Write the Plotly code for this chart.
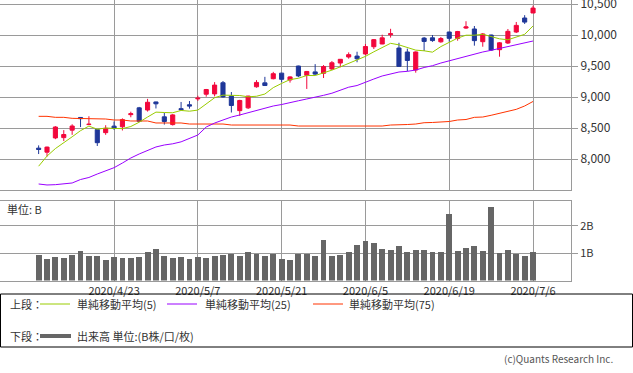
import plotly.graph_objects as go

# ---------------- data ----------------
dates = ["2020/4/9", "2020/4/13", "2020/4/14", "2020/4/15", "2020/4/16", "2020/4/17", "2020/4/20",
         "2020/4/21", "2020/4/22", "2020/4/23", "2020/4/24", "2020/4/27", "2020/4/28", "2020/4/29",
         "2020/4/30", "2020/5/1", "2020/5/4", "2020/5/5", "2020/5/6", "2020/5/7", "2020/5/8",
         "2020/5/11", "2020/5/12", "2020/5/13", "2020/5/14", "2020/5/15", "2020/5/18", "2020/5/19",
         "2020/5/20", "2020/5/21", "2020/5/22", "2020/5/26", "2020/5/27", "2020/5/28", "2020/5/29",
         "2020/6/1", "2020/6/2", "2020/6/3", "2020/6/4", "2020/6/5", "2020/6/8", "2020/6/9",
         "2020/6/10", "2020/6/11", "2020/6/12", "2020/6/15", "2020/6/16", "2020/6/17", "2020/6/18",
         "2020/6/19", "2020/6/22", "2020/6/23", "2020/6/24", "2020/6/25", "2020/6/26", "2020/6/29",
         "2020/6/30", "2020/7/1", "2020/7/2", "2020/7/6"]

opens = [8175, 8110, 8340, 8345, 8465, 8670, 8555, 8475, 8425, 8530,
         8520, 8715, 8825, 8790, 8920, 8680, 8555, 8812, 8875, 8970,
         9045, 9050, 9230, 9015, 8780, 8825, 9165, 9228, 9295, 9385,
         9275, 9500, 9350, 9405, 9382, 9452, 9548, 9645, 9660, 9694,
         9811, 9855, 10005, 9790, 9726, 9436, 9950, 9955, 9890, 10048,
         9945, 10112, 10097, 9892, 10000, 9763, 9871, 10048, 10274, 10355]

highs = [8220, 8200, 8530, 8466, 8560, 8675, 8690, 8480, 8545, 8605,
         8655, 8763, 8840, 8970, 8925, 8745, 8725, 8920, 8935, 9020,
         9130, 9240, 9258, 9080, 8955, 9018, 9272, 9325, 9405, 9390,
         9335, 9505, 9420, 9530, 9515, 9580, 9612, 9720, 9730, 9855,
         9935, 10005, 10100, 9875, 9780, 9735, 9968, 10000, 9968, 10052,
         10066, 10222, 10145, 10032, 10005, 9887, 10097, 10210, 10320, 10473]

lows = [8080, 8040, 8320, 8290, 8390, 8515, 8548, 8210, 8390, 8470,
        8460, 8673, 8600, 8765, 8815, 8555, 8540, 8790, 8812, 8937,
        9005, 9010, 8990, 8750, 8695, 8806, 9150, 9180, 9285, 9240,
        9232, 9320, 9130, 9355, 9306, 9436, 9480, 9618, 9560, 9677,
        9774, 9852, 9958, 9490, 9415, 9392, 9742, 9890, 9876, 9892,
        9908, 10097, 9828, 9811, 9742, 9650, 9855, 10032, 10178, 10355]

closes = [8154, 8192, 8516, 8395, 8532, 8650, 8561, 8263, 8495, 8495,
          8635, 8730, 8608, 8915, 8890, 8605, 8711, 8795, 8854, 8980,
          9121, 9192, 9002, 8863, 8944, 9015, 9235, 9185, 9376, 9285,
          9324, 9340, 9412, 9369, 9490, 9552, 9608, 9683, 9616, 9814,
          9925, 9954, 10020, 9493, 9589, 9726, 9896, 9910, 9943, 9946,
          10056, 10131, 9909, 10017, 9757, 9874, 10059, 10155, 10208, 10434]

ma5 = [7884, 8047, 8168, 8270, 8358, 8457, 8531, 8480, 8500, 8493,
       8490, 8524, 8593, 8677, 8756, 8750, 8746, 8783, 8771, 8789,
       8892, 8988, 9030, 9032, 9024, 9003, 9012, 9048, 9151, 9219,
       9281, 9302, 9347, 9346, 9387, 9433, 9486, 9540, 9590, 9655,
       9729, 9798, 9866, 9841, 9796, 9756, 9745, 9723, 9813, 9884,
       9950, 9997, 9997, 10012, 9974, 9938, 9923, 9972, 10011, 10146]

ma25 = [7597, 7581, 7586, 7597, 7613, 7669, 7702, 7758, 7806, 7860,
        7935, 8016, 8081, 8134, 8194, 8226, 8245, 8277, 8331, 8387,
        8516, 8580, 8629, 8677, 8710, 8745, 8779, 8823, 8855, 8879,
        8903, 8939, 8968, 8994, 9027, 9061, 9113, 9158, 9185, 9242,
        9290, 9339, 9374, 9403, 9414, 9435, 9476, 9505, 9548, 9584,
        9621, 9661, 9702, 9726, 9753, 9782, 9806, 9839, 9871, 9903]

ma75 = [8688, 8688, 8672, 8672, 8656, 8656, 8656, 8645, 8645, 8629,
        8629, 8613, 8613, 8613, 8581, 8581, 8581, 8581, 8564, 8564,
        8564, 8564, 8564, 8548, 8548, 8548, 8548, 8548, 8548, 8548,
        8548, 8532, 8532, 8532, 8532, 8532, 8532, 8532, 8532, 8532,
        8532, 8532, 8548, 8548, 8556, 8564, 8585, 8589, 8597, 8605,
        8629, 8637, 8672, 8677, 8705, 8737, 8758, 8801, 8855, 8928]

volume = [0.93, 0.79, 0.86, 0.82, 0.93, 1.08, 0.90, 0.90, 0.75, 0.86,
          0.82, 0.82, 0.86, 1.04, 1.15, 0.90, 0.82, 0.86, 0.79, 0.86,
          0.82, 0.90, 0.93, 0.97, 0.90, 1.04, 0.97, 0.90, 0.97, 0.79,
          0.75, 0.97, 0.97, 0.90, 1.48, 0.90, 0.93, 1.04, 1.30, 1.45,
          1.37, 1.15, 1.12, 1.26, 1.04, 1.12, 1.12, 1.04, 1.04, 2.44,
          1.08, 1.19, 1.26, 1.08, 2.69, 1.01, 1.12, 0.97, 0.90, 1.04]

tick_dates = ["2020/4/23", "2020/5/7", "2020/5/21", "2020/6/5", "2020/6/19", "2020/7/6"]
price_ticks = [8000, 8500, 9000, 9500, 10000, 10500]
vol_ticks = [1, 2]
vol_tick_text = ["1B", "2B"]

legend_top = ["単純移動平均(5)", "単純移動平均(25)", "単純移動平均(75)"]
legend_bottom = "出来高 単位:(B株/口/枚)"

# ---------------- style ----------------
W, H = 633, 373
R_MARGIN = 62
PLOT_W = W - R_MARGIN
RED = "#f2083c"
BLUE = "#1f3799"
C5, C25, C75 = "#99cc00", "#9900ff", "#ff3300"
GRID = "#9a9a9a"
FONT = "Noto Sans CJK JP"
TXT = "#333333"


def px(x):
    # pixel x from figure's left edge -> paper coordinate (paper spans the plot width)
    return x / PLOT_W


def py(y):
    return 1 - y / H


fig = go.Figure()
fig.add_trace(go.Candlestick(
    x=dates, open=opens, high=highs, low=lows, close=closes,
    increasing=dict(line=dict(color=RED, width=1), fillcolor=RED),
    decreasing=dict(line=dict(color=BLUE, width=1), fillcolor=BLUE),
    whiskerwidth=0, xaxis="x", yaxis="y", showlegend=False, hoverinfo="skip"))
for vals, col in [(ma75, C75), (ma25, C25), (ma5, C5)]:
    fig.add_trace(go.Scatter(x=dates, y=vals, mode="lines", line=dict(color=col, width=1),
                             xaxis="x", yaxis="y", showlegend=False, hoverinfo="skip"))
fig.add_trace(go.Bar(x=dates, y=volume, marker=dict(color="#666666", line=dict(width=0)),
                     width=0.7, xaxis="x2", yaxis="y2", showlegend=False, hoverinfo="skip"))

xr = [-4.61, 63.53]
common_x = dict(type="category", range=xr, showgrid=True, gridcolor=GRID, gridwidth=1,
                tickmode="array", tickvals=tick_dates, showline=True, mirror=True,
                linecolor=GRID, linewidth=1, zeroline=False, fixedrange=True,
                automargin=False)

fig.update_layout(
    width=W, height=H,
    margin=dict(l=0, r=R_MARGIN, t=0, b=0, autoexpand=False),
    paper_bgcolor="white", plot_bgcolor="white",
    font=dict(family=FONT, size=11, color=TXT),
    showlegend=False,
    bargap=0,
    xaxis=dict(common_x, anchor="y", showticklabels=False, ticks="",
               rangeslider=dict(visible=False), domain=[0, 1]),
    yaxis=dict(domain=[py(190), 1.0], range=[7500, 10564.5], side="right",
               tickmode="array", tickvals=price_ticks, tickformat=",",
               ticks="outside", ticklen=6, tickcolor=GRID, ticklabeloverflow="allow",
               showgrid=True, gridcolor=GRID, showline=True, mirror=True,
               linecolor=GRID, zeroline=False, fixedrange=True, automargin=False,
               tickfont=dict(size=12, color=TXT)),
    xaxis2=dict(common_x, anchor="y2", showticklabels=True, ticks="",
                tickfont=dict(size=11, color=TXT), domain=[0, 1]),
    yaxis2=dict(domain=[py(280.5), py(201)], range=[0, 2.91], side="right",
                tickmode="array", tickvals=vol_ticks, ticktext=vol_tick_text,
                ticks="outside", ticklen=6, tickcolor=GRID,
                showgrid=True, gridcolor=GRID, showline=True, mirror=True,
                linecolor=GRID, zeroline=False, fixedrange=True, automargin=False,
                tickfont=dict(size=11, color=TXT)),
)

shapes = []
annotations = []
# unit label in volume panel
annotations.append(dict(x=px(5), y=py(209), xref="paper", yref="paper", text="単位: B",
                        showarrow=False, xanchor="left", yanchor="middle",
                        font=dict(size=11, color=TXT)))
# legend box
shapes.append(dict(type="rect", xref="paper", yref="paper", x0=px(0.5), x1=px(632.5),
                   y0=py(294), y1=py(347), line=dict(color="black", width=1)))
row1, row2 = 304, 336
annotations.append(dict(x=px(8), y=py(row1), xref="paper", yref="paper", text="上段：",
                        showarrow=False, xanchor="left", yanchor="middle", font=dict(size=11)))
for (lx0, tx), col, lab in zip([(40, 75), (167, 203), (313, 347)], [C5, C25, C75], legend_top):
    shapes.append(dict(type="line", xref="paper", yref="paper", x0=px(lx0), x1=px(lx0 + 30),
                       y0=py(row1), y1=py(row1), line=dict(color=col, width=1)))
    annotations.append(dict(x=px(tx), y=py(row1), xref="paper", yref="paper", text=lab,
                            showarrow=False, xanchor="left", yanchor="middle", font=dict(size=11)))
annotations.append(dict(x=px(8), y=py(row2), xref="paper", yref="paper", text="下段：",
                        showarrow=False, xanchor="left", yanchor="middle", font=dict(size=11)))
shapes.append(dict(type="line", xref="paper", yref="paper", x0=px(40), x1=px(71),
                   y0=py(row2), y1=py(row2), line=dict(color="#666666", width=4)))
annotations.append(dict(x=px(75), y=py(row2), xref="paper", yref="paper", text=legend_bottom,
                        showarrow=False, xanchor="left", yanchor="middle", font=dict(size=11)))
annotations.append(dict(x=px(615), y=py(358), xref="paper", yref="paper",
                        text="(c)Quants Research Inc.", showarrow=False,
                        xanchor="right", yanchor="middle", font=dict(size=10, color="#555555")))

fig.update_layout(shapes=shapes, annotations=annotations)
fig.write_html("out.html", config={"displayModeBar": False, "staticPlot": True},
               post_script="document.body.style.margin='0';")
